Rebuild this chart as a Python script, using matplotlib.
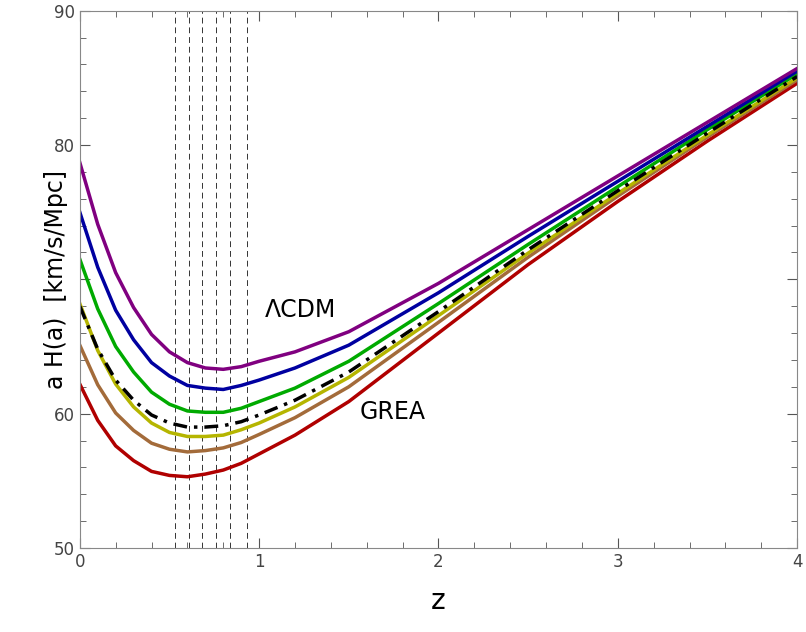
import matplotlib
matplotlib.use("Agg")
import matplotlib.pyplot as plt
from matplotlib.ticker import MultipleLocator

z = [0,0.1,0.2,0.3,0.4,0.5,0.6,0.7,0.8,0.9,1.0,1.2,1.5,2,2.5,3,3.5,4]
purple = [78.7,74.1,70.5,67.9,65.9,64.6,63.8,63.4,63.3,63.5,63.9,64.6,66.1,69.7,73.7,77.7,81.7,85.7]
blue   = [75.0,70.9,67.7,65.5,63.8,62.8,62.1,61.9,61.8,62.1,62.5,63.4,65.1,69.0,73.2,77.3,81.4,85.5]
green  = [71.5,67.8,65.0,63.1,61.6,60.7,60.2,60.1,60.1,60.4,60.9,61.9,63.9,68.2,72.6,76.9,81.15,85.3]
yellow = [68.2,64.7,62.2,60.5,59.3,58.6,58.3,58.3,58.4,58.8,59.3,60.5,62.7,67.3,71.95,76.4,80.75,85.0]
brown  = [65.1,62.15,60.05,58.75,57.8,57.35,57.15,57.25,57.45,57.85,58.45,59.7,62.0,66.8,71.65,76.2,80.6,84.85]
red    = [62.2,59.5,57.6,56.5,55.7,55.4,55.3,55.5,55.8,56.3,57.0,58.4,60.9,66.0,71.1,75.8,80.3,84.6]
black  = [68.0,64.8,62.5,61.0,59.9,59.3,59.0,59.0,59.1,59.4,59.9,61.0,63.1,67.6,72.2,76.6,80.9,85.1]
vlines = [0.53,0.61,0.68,0.76,0.84,0.93]

fig = plt.figure(figsize=(8.06,6.32), dpi=100)
ax = fig.add_axes([0.099,0.133,0.890,0.850])
for zz in vlines:
    ax.axvline(zz, color='#333333', lw=0.7, ls=(0,(6,4)))
for y,c in [(red,'#b00000'),(brown,'#a36b3a'),(yellow,'#b5b500'),(green,'#00aa00'),(blue,'#0000a0'),(purple,'#800080')]:
    ax.plot(z, y, color=c, lw=2.5, solid_joinstyle='round')
ax.plot(z, black, color='black', lw=2.5, ls=(0,(4,2,1,2)))
ax.text(1.03, 67.7, 'ΛCDM', fontsize=17, va='center')
ax.text(1.56, 60.1, 'GREA', fontsize=17, va='center')
ax.set_xlim(0,4); ax.set_ylim(50,90)
ax.xaxis.set_major_locator(MultipleLocator(1)); ax.xaxis.set_minor_locator(MultipleLocator(0.2))
ax.yaxis.set_major_locator(MultipleLocator(10)); ax.yaxis.set_minor_locator(MultipleLocator(2))
ax.tick_params(which='both', direction='in', top=True, right=True, labelsize=12, labelcolor='#444444', color='#555555')
ax.tick_params(which='major', length=7); ax.tick_params(which='minor', length=4)
for lab in ax.get_yticklabels():
    if lab.get_text() == '70':
        lab.set_visible(False)
for s in ax.spines.values():
    s.set_color('#888888')
ax.set_xlabel('z', fontsize=20, labelpad=12)
ax.set_ylabel('a H(a)  [km/s/Mpc]', fontsize=17, labelpad=-10)
fig.savefig('out.png', dpi=100)
